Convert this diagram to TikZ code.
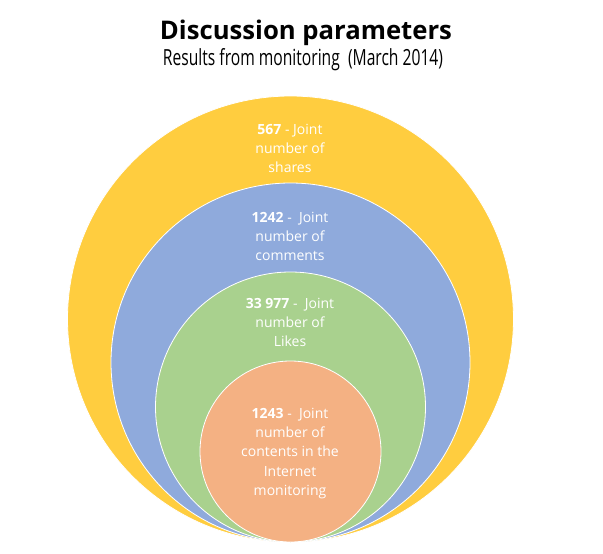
\documentclass[tikz,border=0pt]{standalone}
\usepackage{fontspec}
\setmainfont{Open Sans}
\definecolor{cyellow}{HTML}{FFCD3F}
\definecolor{cblue}{HTML}{8FAADC}
\definecolor{cgreen}{HTML}{A9D18E}
\definecolor{corange}{HTML}{F4B183}
\begin{document}
\begin{tikzpicture}[x=1pt,y=-1pt,
  ring/.style={circle, draw=white, line width=0.8pt, inner sep=0pt, outer sep=0pt},
  lbl/.style={text=white, align=center, inner sep=0pt, font=\fontsize{14}{19}\selectfont}]
\useasboundingbox[fill=white] (0,0) rectangle (603,554);
\node[ring, fill=cyellow, minimum size=446pt] (yel) at (290.5,319) {};
\node[ring, fill=cblue, minimum size=359pt] (blu) at (290.5,362.5) {};
\node[ring, fill=cgreen, minimum size=270pt] (grn) at (290.5,407) {};
\node[ring, fill=corange, minimum size=181pt] (org) at (290.5,451.5) {};
\node[lbl] (tyel) at (290,148) {\textbf{567} - Joint\\number of\\shares};
\node[lbl] (tblu) at (290,236) {\textbf{1242} -\ \ Joint\\number of\\comments};
\node[lbl] (tgrn) at (290,322) {\textbf{33 977} -\ \ Joint\\number of\\Likes};
\node[lbl, font=\fontsize{14}{19.3}\selectfont] (torg) at (290,453.5) {\textbf{1243} -\ \ Joint\\number of\\contents in the\\Internet\\monitoring};
\node[anchor=base, inner sep=0pt] (title) at (306,39) {\resizebox{292pt}{!}{\fontsize{25}{28}\selectfont\bfseries Discussion parameters}};
\node[anchor=base, inner sep=0pt] (sub) at (303,65.7) {\resizebox{280pt}{17pt}{\fontsize{18}{20}\selectfont Results from monitoring\ \ (March 2014)}};
\end{tikzpicture}
\end{document}
